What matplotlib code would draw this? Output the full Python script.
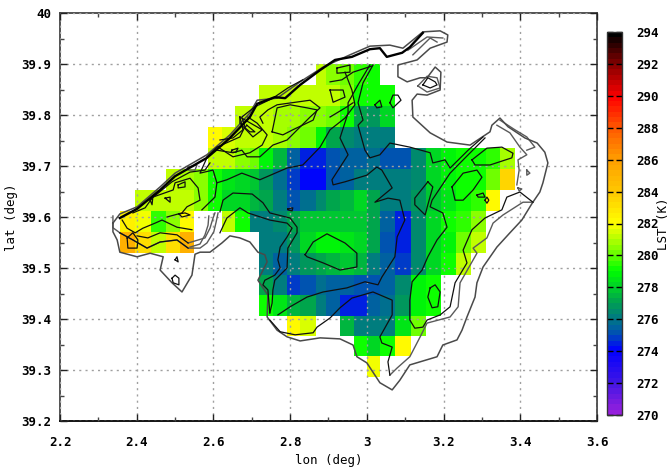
import numpy as np
import matplotlib
matplotlib.use('Agg')
import matplotlib.pyplot as plt
from matplotlib.colors import LinearSegmentedColormap

N = np.nan

# grid edges of the LST cells
lon_edges = [2.356, 2.396, 2.437, 2.476, 2.513, 2.549, 2.586, 2.622, 2.656, 2.695,
             2.719, 2.755, 2.792, 2.826, 2.867, 2.893, 2.930, 2.966, 3.000, 3.034,
             3.073, 3.115, 3.154, 3.193, 3.232, 3.271, 3.311, 3.347, 3.386]
lat_edges = [39.900, 39.859, 39.818, 39.777, 39.735, 39.694, 39.653, 39.612,
             39.571, 39.529, 39.486, 39.447, 39.406, 39.367, 39.327, 39.286]

# first column of each row (north to south) and its LST values
row_starts = [14, 10, 8, 6, 6, 3, 1, 0, 0, 10, 10, 10, 12, 17, 18]
row_values = [
    [281, 280.5, 280, 279.5, 279.3],
    [281, 281, 281, 281, 281, 281, 280.5, 279.3, 279, 279],
    [281.3, 281, 281, 280.8, 280.8, 280.6, 280.4, 280, 279, 277, 276.8, 278.2],
    [282, 281.5, 281, 281, 281, 280.8, 280.5, 280, 278.8, 277.3, 276.5, 276.2, 276, 276],
    [281, 281, 280.6, 280, 278.8, 277.6, 275.5, 274.5, 274.6, 275.3, 275.5, 275.6, 275.7,
     275, 275.2, 276.5, 278, 278.8, 279.2, 279.3, 279.5, 280.8],
    [281, 280.8, 280.5, 279.3, 278.4, 278.2, 277.8, 276.8, 275.8, 274.8, 274.2, 274.3, 275.2,
     275.6, 276, 276, 276.2, 276.3, 276.6, 278, 278.8, 279.1, 279.3, 280.2, 283.5],
    [281, 281, 281, 281, 280.6, 279.3, 278.3, 278, 277.6, 277, 276.3, 275, 275.8, 276.6, 277.2,
     277.6, 278, 277.2, 276.2, 276.3, 276.8, 277.8, 278.5, 279, 279.6, 282],
    [282.5, 281.8, 279.5, 280.5, 282, N, N, 281.2, 279, 276.2, 276.2, 276.4, 277.2, 277.9,
     277.8, 277.8, 277.9, 277.8, 277, 275.6, 274.6, 276.4, 278.2, 279.1, 279.4, 280.4],
    [285, 283.3, 281, 283, 285, N, N, N, N, N, 276.2, 276.3, 276.8, 278.3, 278.8, 278.8, 278.5,
     278, 277, 275, 274.4, 276.5, 278.3, 278.9, 280.3, 281.2],
    [276, 275.6, 276, 276.8, 277.2, 277.6, 277.7, 277.5, 276.3, 275.6, 274.8, 276.5, 278, 279, 281],
    [277, 276, 274.8, 275.3, 275.8, 275.6, 275.5, 275.2, 275, 275.4, 276.5, 278.8, 279.2],
    [279.2, 278.5, 277.5, 277, 276, 275.5, 274.4, 274.5, 275.4, 275.8, 276.8, 278.8, 279.3],
    [282, 281.6, N, N, 277.6, 276.2, 276, 276.2, 278.5, 280],
    [279, 278, 279.2, 282],
    [281.7],
]

cbar_ticks = list(range(270, 296, 2))
cmap_values = [270, 272, 274, 275, 276, 277, 278, 279, 280, 281, 282, 284, 286, 288, 290, 292, 294]
cmap_colors = ['#9620dc', '#3c14e6', '#0000ff', '#0050b4', '#007a82', '#00a050', '#00d228',
               '#00ff00', '#64ff00', '#b4ff00', '#ffff00', '#ffc800', '#ffa000', '#ff5a00',
               '#ff0000', '#8c0000', '#000000']

# island outline and terrain contours, (lon, lat)
coast = [(2.338, 39.588), (2.356, 39.606), (2.401, 39.620), (2.461, 39.659), (2.500, 39.686),
         (2.583, 39.722), (2.643, 39.761), (2.695, 39.804), (2.714, 39.829), (2.766, 39.833),
         (2.826, 39.865), (2.886, 39.894), (2.956, 39.918), (3.008, 39.935), (3.060, 39.937),
         (3.094, 39.931), (3.146, 39.963), (3.191, 39.965), (3.211, 39.957), (3.209, 39.943),
         (3.165, 39.931), (3.131, 39.908), (3.081, 39.898), (3.081, 39.875), (3.105, 39.865),
         (3.139, 39.873), (3.157, 39.873), (3.178, 39.894), (3.193, 39.884), (3.191, 39.849),
         (3.157, 39.839), (3.131, 39.841), (3.118, 39.829), (3.120, 39.796), (3.165, 39.765),
         (3.209, 39.747), (3.269, 39.741), (3.321, 39.767), (3.326, 39.780), (3.347, 39.794),
         (3.368, 39.777), (3.412, 39.755), (3.444, 39.745), (3.464, 39.727), (3.472, 39.706),
         (3.459, 39.667), (3.451, 39.649), (3.431, 39.627), (3.404, 39.594), (3.373, 39.569),
         (3.339, 39.541), (3.303, 39.502), (3.287, 39.471), (3.282, 39.443), (3.261, 39.404),
         (3.248, 39.378), (3.235, 39.359), (3.198, 39.349), (3.183, 39.326), (3.112, 39.310),
         (3.086, 39.280), (3.066, 39.261), (3.034, 39.275), (3.000, 39.314), (2.974, 39.326),
         (2.964, 39.349), (2.930, 39.361), (2.878, 39.363), (2.826, 39.357), (2.792, 39.365),
         (2.766, 39.378), (2.740, 39.404), (2.742, 39.447), (2.716, 39.476), (2.740, 39.512),
         (2.734, 39.526), (2.716, 39.531), (2.695, 39.551), (2.669, 39.559), (2.643, 39.563),
         (2.622, 39.549), (2.591, 39.531), (2.565, 39.531), (2.552, 39.527), (2.544, 39.486),
         (2.518, 39.453), (2.492, 39.471), (2.461, 39.496), (2.469, 39.522), (2.435, 39.529),
         (2.401, 39.522), (2.356, 39.531), (2.349, 39.555), (2.338, 39.571), (2.338, 39.588)]

north_shore = [(2.356, 39.598), (2.401, 39.616), (2.461, 39.653), (2.500, 39.680), (2.583, 39.716),
               (2.622, 39.741), (2.643, 39.755), (2.695, 39.796), (2.714, 39.822), (2.760, 39.835),
               (2.787, 39.833), (2.826, 39.859), (2.878, 39.888), (2.917, 39.908), (2.961, 39.914),
               (3.008, 39.929), (3.034, 39.931), (3.052, 39.914), (3.092, 39.922), (3.112, 39.933),
               (3.146, 39.961)]

gray_lines = [
    [(2.338, 39.602), (2.338, 39.579), (2.356, 39.569)],
    [(2.356, 39.569), (2.390, 39.555), (2.427, 39.539), (2.461, 39.551), (2.505, 39.555),
     (2.534, 39.539), (2.565, 39.539), (2.583, 39.549), (2.601, 39.571), (2.607, 39.590), (2.612, 39.608)],
    [(2.534, 39.549), (2.578, 39.559), (2.591, 39.578), (2.599, 39.598), (2.604, 39.608)],
    [(2.539, 39.541), (2.565, 39.547), (2.578, 39.565), (2.586, 39.584), (2.588, 39.602)],
    [(3.107, 39.927), (3.157, 39.953), (3.198, 39.951)],
    [(3.120, 39.918), (3.165, 39.951), (3.183, 39.943)],
    [(3.060, 39.290), (3.079, 39.304), (3.112, 39.326), (3.139, 39.365), (3.157, 39.392), (3.217, 39.404),
     (3.238, 39.424), (3.243, 39.471), (3.287, 39.529), (3.277, 39.539), (3.313, 39.559), (3.329, 39.588),
     (3.355, 39.604), (3.407, 39.629), (3.433, 39.629)],
    [(3.339, 39.780), (3.373, 39.765), (3.399, 39.737), (3.417, 39.722), (3.394, 39.712), (3.397, 39.692), (3.391, 39.663)],
    [(3.347, 39.790), (3.386, 39.771), (3.417, 39.757), (3.438, 39.737), (3.417, 39.731)],
    [(3.133, 39.857), (3.157, 39.876), (3.183, 39.873), (3.191, 39.853), (3.157, 39.845), (3.133, 39.857)],
    [(2.534, 39.698), (2.557, 39.702), (2.552, 39.692), (2.534, 39.692), (2.534, 39.698)],
    [(3.417, 39.692), (3.425, 39.686), (3.417, 39.682), (3.417, 39.692)],
    [(3.394, 39.657), (3.404, 39.655), (3.397, 39.651), (3.394, 39.657)],
]

black_lines = [
    [(2.356, 39.569), (2.390, 39.555), (2.427, 39.539), (2.461, 39.551), (2.505, 39.555), (2.534, 39.539)],
    [(2.401, 39.563), (2.429, 39.559), (2.461, 39.569), (2.505, 39.565), (2.534, 39.549)],
    [(2.583, 39.716), (2.565, 39.686), (2.599, 39.692), (2.609, 39.667), (2.635, 39.673), (2.674, 39.686),
     (2.721, 39.673), (2.792, 39.696), (2.833, 39.702), (2.878, 39.737), (2.904, 39.771), (2.943, 39.794),
     (2.969, 39.820), (2.961, 39.849), (2.943, 39.884)],
    [(2.609, 39.667), (2.604, 39.639), (2.570, 39.614)],
    [(2.617, 39.610), (2.625, 39.633), (2.651, 39.647), (2.701, 39.645), (2.729, 39.628), (2.747, 39.608),
     (2.800, 39.598), (2.818, 39.580), (2.818, 39.569), (2.794, 39.539), (2.792, 39.500), (2.760, 39.476),
     (2.755, 39.457), (2.753, 39.431), (2.747, 39.412)],
    [(2.617, 39.569), (2.635, 39.598), (2.669, 39.618), (2.690, 39.608), (2.747, 39.594), (2.792, 39.588),
     (2.805, 39.578), (2.792, 39.561), (2.774, 39.541), (2.768, 39.516), (2.774, 39.500), (2.760, 39.486),
     (2.734, 39.476), (2.729, 39.467), (2.742, 39.457), (2.747, 39.412)],
    [(3.008, 39.898), (2.977, 39.859), (2.951, 39.824), (2.951, 39.804), (2.930, 39.755), (2.951, 39.722),
     (2.909, 39.673), (2.912, 39.663), (2.943, 39.669), (3.000, 39.682), (3.026, 39.698), (3.039, 39.692),
     (3.066, 39.657), (3.021, 39.629), (3.055, 39.637), (3.086, 39.633), (3.099, 39.594), (3.079, 39.561),
     (3.073, 39.522), (3.039, 39.482), (3.029, 39.467), (2.995, 39.473), (2.948, 39.461), (2.886, 39.453),
     (2.844, 39.443), (2.800, 39.424), (2.768, 39.408)],
    [(3.016, 39.898), (2.990, 39.863), (2.977, 39.824), (2.990, 39.790), (2.977, 39.780), (2.995, 39.731),
     (3.008, 39.716), (3.034, 39.722), (3.060, 39.745), (3.112, 39.737), (3.165, 39.726), (3.172, 39.706),
     (3.204, 39.712), (3.217, 39.696), (3.264, 39.731), (3.303, 39.757)],
    [(2.839, 39.526), (2.860, 39.551), (2.896, 39.567), (2.943, 39.549), (2.974, 39.529), (2.974, 39.502),
     (2.930, 39.496), (2.886, 39.510), (2.844, 39.522), (2.839, 39.526)],
    [(3.159, 39.669), (3.172, 39.659), (3.159, 39.624), (3.152, 39.604), (3.125, 39.624), (3.125, 39.637), (3.159, 39.669)],
    [(3.308, 39.755), (3.251, 39.712), (3.217, 39.686), (3.170, 39.633), (3.165, 39.620), (3.198, 39.608),
     (3.209, 39.580), (3.183, 39.555), (3.159, 39.522), (3.144, 39.496), (3.118, 39.473), (3.112, 39.437),
     (3.112, 39.398), (3.125, 39.382), (3.146, 39.384), (3.157, 39.398), (3.191, 39.408), (3.217, 39.424),
     (3.230, 39.471), (3.261, 39.510), (3.251, 39.535), (3.274, 39.575), (3.308, 39.598), (3.352, 39.614),
     (3.365, 39.639), (3.399, 39.649), (3.433, 39.629)],
    [(3.222, 39.659), (3.251, 39.686), (3.287, 39.692), (3.300, 39.678), (3.277, 39.653), (3.251, 39.633), (3.230, 39.633), (3.222, 39.659)],
    [(3.274, 39.712), (3.313, 39.735), (3.352, 39.737), (3.381, 39.725), (3.378, 39.716), (3.321, 39.702), (3.282, 39.702), (3.274, 39.712)],
    [(3.165, 39.461), (3.178, 39.467), (3.191, 39.453), (3.185, 39.424), (3.170, 39.422), (3.159, 39.443), (3.165, 39.461)],
    [(2.747, 39.398), (2.774, 39.375), (2.813, 39.369), (2.860, 39.373), (2.870, 39.384), (2.904, 39.402),
     (2.930, 39.422), (2.961, 39.441), (3.016, 39.453), (3.066, 39.437), (3.066, 39.408), (3.034, 39.365),
     (3.039, 39.353), (3.066, 39.345), (3.060, 39.329), (3.055, 39.316), (3.060, 39.290)],
    [(3.146, 39.859), (3.159, 39.873), (3.178, 39.865), (3.183, 39.859), (3.165, 39.853), (3.146, 39.859)],
    [(3.060, 39.824), (3.068, 39.839), (3.081, 39.839), (3.089, 39.829), (3.068, 39.814), (3.060, 39.824)],
    [(3.021, 39.820), (3.034, 39.829), (3.039, 39.816), (3.026, 39.814), (3.021, 39.820)],
    [(2.583, 39.718), (2.609, 39.737), (2.669, 39.757), (2.682, 39.777), (2.674, 39.796), (2.708, 39.816),
     (2.755, 39.833), (2.794, 39.853), (2.833, 39.869)],
    [(2.609, 39.731), (2.651, 39.726), (2.674, 39.731), (2.688, 39.718), (2.721, 39.718), (2.755, 39.741),
     (2.792, 39.751), (2.852, 39.796), (2.878, 39.814), (2.852, 39.829), (2.766, 39.820), (2.742, 39.810),
     (2.721, 39.796), (2.729, 39.784)],
    [(2.753, 39.767), (2.766, 39.814), (2.800, 39.820), (2.844, 39.814), (2.870, 39.810), (2.860, 39.790),
     (2.807, 39.771), (2.781, 39.761), (2.753, 39.767)],
    [(2.669, 39.796), (2.727, 39.771), (2.703, 39.757), (2.669, 39.784), (2.669, 39.796)],
    [(2.687, 39.780), (2.708, 39.767), (2.695, 39.767), (2.682, 39.775), (2.687, 39.780)],
    [(2.612, 39.737), (2.651, 39.718), (2.695, 39.726), (2.727, 39.741), (2.740, 39.761), (2.714, 39.784), (2.690, 39.796)],
    [(2.617, 39.751), (2.651, 39.755), (2.677, 39.771), (2.669, 39.796)],
    [(2.648, 39.731), (2.664, 39.735), (2.659, 39.727), (2.646, 39.727), (2.648, 39.731)],
    [(2.904, 39.849), (2.938, 39.849), (2.943, 39.835), (2.912, 39.825), (2.904, 39.849)],
    [(2.922, 39.892), (2.956, 39.898), (2.956, 39.884), (2.922, 39.882), (2.922, 39.892)],
    [(2.904, 39.865), (2.935, 39.869), (2.964, 39.884), (3.013, 39.896)],
    [(2.904, 39.796), (2.948, 39.816), (2.964, 39.824)],
    [(2.390, 39.608), (2.422, 39.618), (2.442, 39.639), (2.495, 39.653), (2.500, 39.667), (2.539, 39.676),
     (2.560, 39.657), (2.565, 39.633), (2.531, 39.620), (2.518, 39.608), (2.479, 39.600)],
    [(2.362, 39.594), (2.375, 39.578), (2.396, 39.569), (2.416, 39.578), (2.448, 39.588), (2.466, 39.594),
     (2.505, 39.580), (2.544, 39.575)],
    [(2.440, 39.637), (2.492, 39.669), (2.539, 39.688), (2.578, 39.692), (2.591, 39.706)],
    [(2.435, 39.633), (2.442, 39.639), (2.440, 39.624), (2.435, 39.633)],
    [(2.474, 39.637), (2.487, 39.639), (2.487, 39.629), (2.474, 39.637)],
    [(2.508, 39.663), (2.526, 39.669), (2.526, 39.659), (2.508, 39.657), (2.508, 39.663)],
    [(2.510, 39.606), (2.526, 39.608), (2.539, 39.604), (2.518, 39.600), (2.510, 39.606)],
    [(2.375, 39.559), (2.390, 39.569), (2.403, 39.555), (2.401, 39.539), (2.377, 39.539), (2.375, 39.559)],
    [(2.492, 39.480), (2.500, 39.486), (2.510, 39.480), (2.510, 39.467), (2.495, 39.471), (2.492, 39.480)],
    [(2.500, 39.516), (2.505, 39.522), (2.508, 39.512), (2.500, 39.516)],
    [(2.794, 39.616), (2.807, 39.618), (2.805, 39.612), (2.794, 39.614), (2.794, 39.616)],
    [(3.308, 39.633), (3.313, 39.639), (3.318, 39.633), (3.313, 39.627), (3.308, 39.633)],
    [(3.287, 39.643), (3.303, 39.647), (3.308, 39.639), (3.290, 39.639), (3.287, 39.643)],
]

plt.rcParams['font.family'] = 'DejaVu Sans Mono'
plt.rcParams['font.weight'] = 'bold'
plt.rcParams['font.size'] = 9

grid = np.full((len(lat_edges) - 1, len(lon_edges) - 1), np.nan)
for i, (start, vals) in enumerate(zip(row_starts, row_values)):
    grid[i, start:start + len(vals)] = vals

pos = [(v - 270) / 24 for v in cmap_values]
cmap = LinearSegmentedColormap.from_list('lst', list(zip(pos, cmap_colors)), N=72)

fig = plt.figure(figsize=(6.72, 4.68), dpi=100)
ax = fig.add_axes([60 / 672, 1 - 421 / 468, 537 / 672, 408 / 468])
mesh = ax.pcolormesh(lon_edges, lat_edges, grid, cmap=cmap, vmin=270, vmax=294, zorder=1)

ax.set_xlim(2.2, 3.6)
ax.set_ylim(39.2, 40)
ax.set_xticks(np.arange(2.2, 3.61, 0.2))
ax.set_xticklabels(['2.2', '2.4', '2.6', '2.8', '3', '3.2', '3.4', '3.6'])
ax.set_yticks(np.arange(39.2, 40.01, 0.1))
ax.set_yticklabels(['39.2', '39.3', '39.4', '39.5', '39.6', '39.7', '39.8', '39.9', '40'])
ax.set_xticks(np.arange(2.3, 3.6, 0.2), minor=True)
ax.set_yticks(np.arange(39.25, 40, 0.1), minor=True)
ax.tick_params(which='major', direction='in', length=5, width=1, top=True, right=True, color='#222222')
ax.tick_params(which='minor', direction='in', length=3, width=1, top=True, right=True, color='#444444')
ax.tick_params(axis='x', which='major', pad=11)
ax.tick_params(axis='y', which='major', pad=6)
ax.grid(True, which='major', color='#a0a0a0', linestyle=(0, (1.5, 3)), linewidth=1, zorder=2)
ax.set_axisbelow(False)
for spine in ax.spines.values():
    spine.set_linewidth(1.3)
    spine.set_color('#444444')
ax.spines['bottom'].set_color('black')

for line in gray_lines:
    pts = np.array(line)
    ax.plot(pts[:, 0], pts[:, 1], color='#5a5a5a', lw=1.0, zorder=3)
pts = np.array(coast)
ax.plot(pts[:, 0], pts[:, 1], color='#4a4a4a', lw=1.1, zorder=3)
for line in black_lines:
    pts = np.array(line)
    ax.plot(pts[:, 0], pts[:, 1], color='#101010', lw=0.9, zorder=4)
pts = np.array(north_shore)
ax.plot(pts[:, 0], pts[:, 1], color='black', lw=1.7, zorder=4)

ax.set_xlabel('lon (deg)')
ax.set_ylabel('lat (deg)')
ax.xaxis.set_label_coords(0.5, -0.08)
ax.yaxis.set_label_coords(-0.078, 0.5)

cax = fig.add_axes([607 / 672, 1 - 415 / 468, 15 / 672, 383 / 468])
cb = fig.colorbar(mesh, cax=cax)
cb.set_ticks(cbar_ticks)
cb.ax.tick_params(direction='in', length=4, width=1, left=True, right=True, color='black', pad=10)
cb.outline.set_linewidth(1)
cb.outline.set_edgecolor('#333333')
cb.set_label('LST (K)')
cb.ax.yaxis.set_label_coords(3.3, 0.5)

fig.savefig('out.png', dpi=100)
